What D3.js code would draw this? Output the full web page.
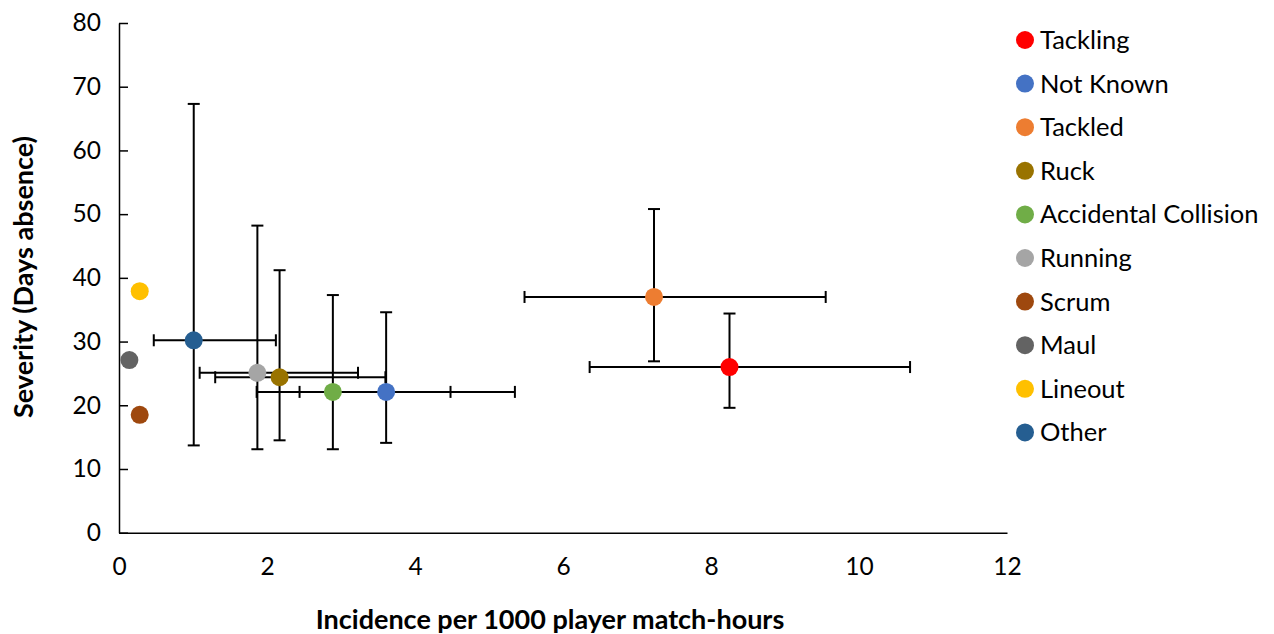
<!DOCTYPE html>
<html><head><meta charset="utf-8">
<script src="https://cdn.jsdelivr.net/npm/d3@7"></script>
<style>body{margin:0;background:#fff;} text{font-family:Lato,"Open Sans",sans-serif;}</style>
</head><body>
<svg id="c" width="1274" height="634"></svg>
<script>
const categories = ["Tackling","Not Known","Tackled","Ruck","Accidental Collision","Running","Scrum","Maul","Lineout","Other"];
const incidence  = [8.25, 3.61, 7.23, 2.17, 2.89, 1.87, 0.28, 0.14, 0.28, 1.01];
const severity   = [26.0, 22.1, 37.0, 24.4, 22.1, 25.1, 18.5, 27.1, 37.9, 30.2];
const incLow     = [6.36, 1.86, 5.48, 1.30, 2.44, 1.09, null, null, null, 0.47];
const incHigh    = [10.69, 5.35, 9.55, 3.60, 4.48, 3.23, null, null, null, 2.12];
const sevLow     = [19.6, 14.1, 26.9, 14.5, 13.1, 13.1, null, null, null, 13.7];
const sevHigh    = [34.4, 34.6, 50.8, 41.2, 37.3, 48.2, null, null, null, 67.3];
const colors     = ["#FF0000","#4472C4","#ED7D31","#997300","#70AD47","#A5A5A5","#9E480E","#636363","#FFC000","#255E91"];
const xTicks = [0,2,4,6,8,10,12];
const yTicks = [0,10,20,30,40,50,60,70,80];

const svg = d3.select("#c");
const x = d3.scaleLinear().domain([0,12]).range([119,1007]);
const y = d3.scaleLinear().domain([0,80]).range([532.7,23]);

// y axis
const yAx = svg.append("g").attr("transform","translate(119,0)")
  .call(d3.axisLeft(y).tickValues(yTicks).tickSizeInner(-9).tickSizeOuter(0).tickPadding(18));
yAx.select(".domain").attr("stroke","#000").attr("stroke-width",1.5);
yAx.selectAll(".tick line").attr("stroke","#000").attr("stroke-width",1.5);
yAx.selectAll("text").attr("font-size",24.5).attr("fill","#000").style("font-family","Lato,sans-serif");

// x axis
const xAx = svg.append("g").attr("transform","translate(0,532.7)")
  .call(d3.axisBottom(x).tickValues(xTicks).tickSize(0).tickPadding(25));
xAx.select(".domain").attr("stroke","#000").attr("stroke-width",1.5);
xAx.selectAll("text").attr("font-size",24.5).attr("fill","#000").style("font-family","Lato,sans-serif");

// titles
svg.append("text").attr("x",550).attr("y",629).attr("text-anchor","middle")
  .attr("font-size",27).attr("font-weight","bold").text("Incidence per 1000 player match-hours");
svg.append("text").attr("transform","translate(33,277) rotate(-90)").attr("text-anchor","middle")
  .attr("font-size",27).attr("font-weight","bold").text("Severity (Days absence)");

const data = categories.map((c,i)=>({c, x:incidence[i], y:severity[i], xl:incLow[i], xh:incHigh[i], yl:sevLow[i], yh:sevHigh[i], col:colors[i]}));
const eb = svg.append("g").attr("stroke","#000").attr("stroke-width",2).attr("fill","none");
const cap = 6;
data.filter(d=>d.xl!=null).forEach(d=>{
  eb.append("line").attr("x1",x(d.xl)).attr("x2",x(d.xh)).attr("y1",y(d.y)).attr("y2",y(d.y));
  eb.append("line").attr("x1",x(d.xl)).attr("x2",x(d.xl)).attr("y1",y(d.y)-cap).attr("y2",y(d.y)+cap);
  eb.append("line").attr("x1",x(d.xh)).attr("x2",x(d.xh)).attr("y1",y(d.y)-cap).attr("y2",y(d.y)+cap);
  eb.append("line").attr("x1",x(d.x)).attr("x2",x(d.x)).attr("y1",y(d.yl)).attr("y2",y(d.yh));
  eb.append("line").attr("x1",x(d.x)-cap).attr("x2",x(d.x)+cap).attr("y1",y(d.yl)).attr("y2",y(d.yl));
  eb.append("line").attr("x1",x(d.x)-cap).attr("x2",x(d.x)+cap).attr("y1",y(d.yh)).attr("y2",y(d.yh));
});
svg.append("g").selectAll("circle").data(data).join("circle")
  .attr("cx",d=>x(d.x)).attr("cy",d=>y(d.y)).attr("r",9).attr("fill",d=>d.col);

// legend
const lg = svg.append("g").selectAll("g").data(data).join("g")
  .attr("transform",(d,i)=>`translate(1025,${40+i*43.6})`);
lg.append("circle").attr("r",9).attr("fill",d=>d.col);
lg.append("text").attr("x",15).attr("dy","0.35em").attr("font-size",25.5).attr("fill","#000").text(d=>d.c);
</script>
</body></html>
